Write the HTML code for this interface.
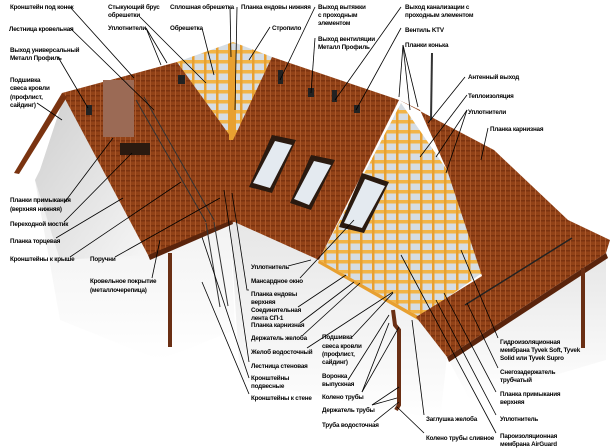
<!DOCTYPE html>
<html><head><meta charset="utf-8"><style>
html,body{margin:0;padding:0;background:#fff}
svg{display:block}
text{font-family:"Liberation Sans",sans-serif;font-size:6.3px;fill:#000;font-weight:bold;letter-spacing:-0.2px}
</style></head><body>
<svg width="610" height="448" viewBox="0 0 610 448" xmlns="http://www.w3.org/2000/svg">
<defs>
<pattern id="tile" width="5" height="5" patternUnits="userSpaceOnUse">
<rect width="5" height="5" fill="#924217"/><rect width="5" height="1.5" fill="#7a3310"/><rect x="0" width="1" height="5" fill="#a9572a"/>
</pattern>
<pattern id="wood" width="12" height="10" patternUnits="userSpaceOnUse">
<rect width="12" height="10" fill="#d6dde3"/><rect width="12" height="3.5" fill="#f2b446"/><rect width="2.5" height="10" fill="#e8a030"/>
</pattern>
<linearGradient id="wall" x1="0" y1="0" x2="1" y2="1"><stop offset="0" stop-color="#cfcfcf"/><stop offset="1" stop-color="#f6f6f6"/></linearGradient>
<linearGradient id="wall2" x1="0" y1="0" x2="0" y2="1"><stop offset="0" stop-color="#e6e6e6"/><stop offset="1" stop-color="#ffffff"/></linearGradient>
</defs>
<polygon points="64,97 148,255 230,220 235,330 160,360 60,320 35,180 40,170" fill="url(#wall2)"/>
<polygon points="64,97 148,255 60,260 35,180 40,170" fill="url(#wall)"/>
<polygon points="230,220 319,260 420,317 447,357 440,420 240,380" fill="url(#wall2)"/>
<polygon points="447,357 606,253 606,360 470,400" fill="url(#wall2)"/>
<!-- left roof -->
<polygon points="62,93 177,62 236,140 234,222 148,255 64,97" fill="url(#tile)"/>
<polygon points="62,93 67,97 19,174 14,173" fill="#7a3310"/>
<polygon points="148,255 232,220 233,224 150,260" fill="#5a240c"/>
<!-- top orange -->
<polygon points="177,62 233,42 280,60 233,140" fill="url(#wood)"/>
<rect x="229" y="50" width="7" height="90" fill="#e8a030"/>
<!-- center brown -->
<polygon points="272,57 399,100 319,260 230,220 233,140" fill="url(#tile)"/>
<!-- orange right -->
<polygon points="401,103 447,170 482,273 420,317 319,260" fill="url(#wood)"/>
<polygon points="319,260 420,317 418,320 318,263" fill="#e8a030"/>
<!-- right brown -->
<polygon points="399,100 494,150 568,220 610,240 606,253 447,357 416,317 482,276 447,170 420,110" fill="url(#tile)"/>
<polygon points="606,253 447,357 449,362 608,258" fill="#5a240c"/>
<rect x="103" y="80" width="31" height="57" fill="#9b6a55"/>
<rect x="120" y="143" width="30" height="12" fill="#2a1a10"/>
<polygon points="272,135 296,140 272,193 249,187" fill="#2a1a10"/><polygon points="275,141 292,145 270,188 253,183" fill="#e4eaf0"/>
<polygon points="311,155 335,160 311,210 290,203" fill="#2a1a10"/><polygon points="314,161 331,165 309,205 294,199" fill="#e4eaf0"/>
<polygon points="362,173 389,182 364,233 339,227" fill="#2a1a10"/><polygon points="365,179 385,186 362,228 344,223" fill="#e4eaf0"/>
<rect x="86" y="105" width="6" height="10" fill="#222"/><rect x="178" y="75" width="7" height="9" fill="#222"/>
<rect x="278" y="70" width="5" height="14" fill="#222"/><rect x="308" y="88" width="6" height="9" fill="#222"/>
<rect x="332" y="90" width="5" height="12" fill="#222"/><rect x="354" y="105" width="6" height="8" fill="#222"/>
<line x1="465" y1="305" x2="572" y2="238" stroke="#222" stroke-width="1.5"/>
<rect x="168" y="253" width="4" height="94" fill="#6a2f14"/>
<polyline points="393,310 395,325 399,330 399,405 396,410" stroke="#6a2f14" stroke-width="4" fill="none"/>
<rect x="581" y="268" width="4" height="80" fill="#6a2f14"/>
<line x1="432" y1="53" x2="431" y2="120" stroke="#333" stroke-width="2"/>
<g stroke="#333" stroke-width="1" fill="none"><line x1="136" y1="100" x2="206" y2="222"/><line x1="144" y1="97" x2="214" y2="220"/>
<line x1="206" y1="223" x2="220" y2="307"/><line x1="214" y1="222" x2="228" y2="306"/></g>
<g stroke="#000" stroke-width="0.8" fill="none">
<line x1="70" y1="7" x2="134" y2="78"/><line x1="70" y1="28" x2="154" y2="110"/><line x1="58" y1="57" x2="88" y2="108"/>
<line x1="37" y1="103" x2="62" y2="120"/><line x1="146" y1="28" x2="167" y2="63"/><line x1="146" y1="28" x2="161" y2="65"/>
<line x1="140" y1="17" x2="206" y2="83"/><line x1="230" y1="7" x2="231" y2="57"/><line x1="202" y1="28" x2="214" y2="75"/>
<line x1="237" y1="7" x2="235" y2="110"/><line x1="270" y1="27" x2="249" y2="60"/><line x1="315" y1="7" x2="280" y2="80"/>
<line x1="315" y1="38" x2="311" y2="93"/><line x1="401" y1="7" x2="335" y2="100"/><line x1="401" y1="28" x2="356" y2="110"/>
<line x1="403" y1="45" x2="399" y2="97"/><line x1="403" y1="45" x2="410" y2="110"/><line x1="403" y1="45" x2="418" y2="107"/>
<line x1="465" y1="77" x2="428" y2="123"/><line x1="467" y1="95" x2="420" y2="157"/><line x1="467" y1="110" x2="436" y2="157"/>
<line x1="467" y1="110" x2="446" y2="173"/><line x1="488" y1="128" x2="481" y2="160"/>
<line x1="64" y1="203" x2="113" y2="138"/><line x1="64" y1="222" x2="132" y2="153"/><line x1="56" y1="238" x2="123" y2="198"/>
<line x1="70" y1="257" x2="181" y2="182"/><line x1="115" y1="257" x2="220" y2="198"/><line x1="152" y1="278" x2="160" y2="240"/>
<line x1="288" y1="266" x2="311" y2="260"/><line x1="300" y1="278" x2="354" y2="220"/><polyline points="249,290 247,290 232,193"/>
<line x1="298" y1="307" x2="346" y2="275"/><line x1="300" y1="323" x2="354" y2="282"/><line x1="303" y1="335" x2="360" y2="283"/>
<line x1="307" y1="348" x2="393" y2="292"/><line x1="249" y1="362" x2="224" y2="190"/><line x1="249" y1="378" x2="202" y2="237"/>
<line x1="249" y1="394" x2="202" y2="282"/>
<line x1="352" y1="337" x2="393" y2="293"/><line x1="348" y1="380" x2="389" y2="315"/><line x1="362" y1="392" x2="389" y2="323"/>
<line x1="362" y1="392" x2="399" y2="327"/><line x1="372" y1="405" x2="399" y2="387"/><line x1="372" y1="405" x2="397" y2="398"/>
<line x1="374" y1="422" x2="399" y2="402"/><line x1="424" y1="415" x2="412" y2="320"/><line x1="424" y1="433" x2="397" y2="407"/>
<line x1="498" y1="338" x2="461" y2="250"/><line x1="498" y1="368" x2="467" y2="303"/><line x1="496" y1="392" x2="444" y2="293"/>
<line x1="496" y1="415" x2="436" y2="300"/><line x1="496" y1="433" x2="401" y2="255"/>
</g>
<text x="10" y="9">Кронштейн под конек</text>
<text x="9" y="31">Лестница кровельная</text>
<text x="10" y="52">Выход универсальный</text><text x="10" y="60">Металл Профиль</text>
<text x="10" y="82">Подшивка</text><text x="10" y="90">свеса кровли</text><text x="10" y="99">(профлист,</text><text x="10" y="107">сайдинг)</text>
<text x="108" y="9">Стыкующий брус</text><text x="108" y="17">обрешетки</text>
<text x="108" y="30">Уплотнители</text>
<text x="170" y="9">Сплошная обрешетка</text>
<text x="170" y="30">Обрешетка</text>
<text x="241" y="9">Планка ендовы нижняя</text>
<text x="272" y="30">Стропило</text>
<text x="318" y="9">Выход вытяжки</text><text x="318" y="17">с проходным</text><text x="318" y="25">элементом</text>
<text x="318" y="41">Выход вентиляции</text><text x="318" y="49">Металл Профиль</text>
<text x="405" y="9">Выход канализации с</text><text x="405" y="17">проходным элементом</text>
<text x="405" y="32">Вентиль KTV</text>
<text x="405" y="47">Планки конька</text>
<text x="468" y="79">Антенный выход</text>
<text x="468" y="98">Теплоизоляция</text>
<text x="468" y="114">Уплотнители</text>
<text x="490" y="131">Планка карнизная</text>
<text x="10" y="202">Планки примыкания</text><text x="10" y="211">(верхняя нижняя)</text>
<text x="10" y="226">Переходной мостик</text>
<text x="10" y="243">Планка торцевая</text>
<text x="10" y="261">Кронштейны к крыше</text>
<text x="90" y="261">Поручни</text>
<text x="90" y="283">Кровельное покрытие</text><text x="90" y="292">(металлочерепица)</text>
<text x="251" y="269">Уплотнитель</text>
<text x="251" y="283">Мансардное окно</text>
<text x="251" y="296">Планка ендовы</text><text x="251" y="304">верхняя</text>
<text x="251" y="312">Соединительная</text><text x="251" y="320">лента СП-1</text>
<text x="251" y="327">Планка карнизная</text>
<text x="251" y="340">Держатель желоба</text>
<text x="251" y="354">Желоб водосточный</text>
<text x="251" y="368">Лестница стеновая</text>
<text x="251" y="380">Кронштейны</text><text x="251" y="388">подвесные</text>
<text x="251" y="400">Кронштейны к стене</text>
<text x="322" y="339">Подшивка</text><text x="322" y="348">свеса кровли</text><text x="322" y="356">(профлист,</text><text x="322" y="364">сайдинг)</text>
<text x="322" y="378">Воронка</text><text x="322" y="386">выпускная</text>
<text x="322" y="399">Колено трубы</text>
<text x="322" y="412">Держатель трубы</text>
<text x="322" y="427">Труба водосточная</text>
<text x="500" y="344">Гидроизоляционная</text><text x="500" y="352">мембрана Tyvek Soft, Tyvek</text><text x="500" y="360">Solid или Tyvek Supro</text>
<text x="500" y="374">Снегозадержатель</text><text x="500" y="382">трубчатый</text>
<text x="500" y="396">Планка примыкания</text><text x="500" y="404">верхняя</text>
<text x="500" y="421">Уплотнитель</text>
<text x="500" y="438">Пароизоляционная</text><text x="500" y="446">мембрана AirGuard</text>
<text x="426" y="421">Заглушка желоба</text>
<text x="426" y="440">Колено трубы сливное</text>
</svg>
</body></html>
